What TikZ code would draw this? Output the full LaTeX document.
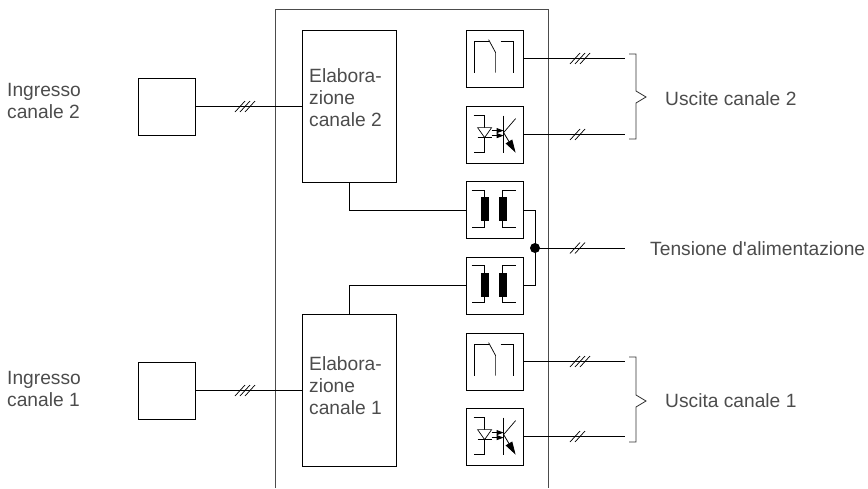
\documentclass[tikz,border=0pt]{standalone}
\usepackage{fontspec}
\setmainfont{Liberation Sans}
\usetikzlibrary{arrows.meta}
\begin{document}
\begin{tikzpicture}[
    x=1pt, y=-1pt,
    every node/.style={font=\fontsize{19.2}{22}\selectfont, text=black!70},
    wire/.style={line width=0.8pt},
    frameline/.style={line width=0.9pt, black!70},
    square/.style={rectangle, draw, line width=0.8pt, minimum size=57pt, inner sep=0pt},
    symbox/.style={rectangle, draw, line width=0.8pt, minimum size=57pt, inner sep=0pt},
    process/.style={rectangle, draw, line width=0.8pt, minimum width=94pt, minimum height=152pt, inner sep=0pt},
    label/.style={anchor=west, align=left, inner sep=0pt},
    symline/.style={line width=0.7pt},
    bracket/.style={line width=0.8pt, black!80},
    tiptri/.style={-{Triangle[length=7pt, width=5pt]}, line width=0.9pt},
    tipbig/.style={-{Triangle[length=13pt, width=7.5pt]}, line width=0.8pt},
    switchsym/.pic={
        \draw[symline] (9,43) -- (9,12) -- (23,12);
        \draw[symline] (23,10) -- (30,23) -- (30,43);
        \draw[symline] (35,12) -- (48,12) -- (48,43);
    },
    optosym/.pic={
        \draw[symline] (8,10) -- (19,10) -- (19,47) -- (8,47);
        \draw[symline, fill=white] (12,22) -- (26,22) -- (19,32) -- cycle;
        \draw[symline] (12,32) -- (26,32);
        \draw[tiptri] (26,25) -- (38,25);
        \draw[tiptri] (26,30) -- (38,30);
        \draw[line width=0.9pt] (38,10) -- (38,47);
        \draw[symline] (38,27) -- (50,13);
        \draw[tipbig] (38,27) -- (50,47);
    },
    coresym/.pic={
        \draw[symline] (6,9) -- (19,9) -- (19,46) -- (6,46);
        \draw[symline] (50,9) -- (37,9) -- (37,46) -- (50,46);
        \fill (15,16) rectangle (23,40);
        \fill (33,16) rectangle (41,40);
    },
    tickii/.pic={
        \foreach \tx in {-2.5,2.5} \draw[symline] (\tx-5,5.5) -- (\tx+5,-5.5);
    },
    tickiii/.pic={
        \foreach \tx in {-5,0,5} \draw[symline] (\tx-5,5.5) -- (\tx+5,-5.5);
    }
]
\useasboundingbox (0,0) rectangle (868,488);

% -------------------------
% Outer housing
% -------------------------
    \coordinate (fa) at (275,488);
    \coordinate (fb) at (275,9);
    \coordinate (fc) at (548,9);
    \coordinate (fd) at (548,488);
    \draw[frameline] (fa) -- (fb) -- (fc) -- (fd);

% -------------------------
% Left column
% -------------------------
    \node[label] (in2) at (7,101) {Ingresso\\canale 2};
    \node[label] (in1) at (7,389) {Ingresso\\canale 1};
    \node[square] (s2) at (166.5,106.5) {};
    \node[square] (s1) at (166.5,390.5) {};

% -------------------------
% Processing blocks
% -------------------------
    \node[process] (e2) at (349,106) {};
    \node[process] (e1) at (349,390) {};
    \node[label] (e2t) at (309,98) {Elabora-\\zione\\canale 2};
    \node[label] (e1t) at (309,386) {Elabora-\\zione\\canale 1};

% -------------------------
% Symbol boxes
% -------------------------
    \node[symbox] (rel2) at (494.5,58.5) {};
    \node[symbox] (opt2) at (494.5,134.5) {};
    \node[symbox] (tr2) at (494.5,210) {};
    \node[symbox] (tr1) at (494.5,285.5) {};
    \node[symbox] (rel1) at (494.5,361.5) {};
    \node[symbox] (opt1) at (494.5,436.5) {};
    \pic at (rel2.north west) {switchsym};
    \pic at (opt2.north west) {optosym};
    \pic at (tr2.north west) {coresym};
    \pic at (tr1.north west) {coresym};
    \pic at (rel1.north west) {switchsym};
    \pic at (opt1.north west) {optosym};

% -------------------------
% Right column
% -------------------------
    \node[label] (out2) at (665,98.5) {Uscite canale 2};
    \node[label] (pw) at (650,249) {Tensione d\textquotesingle alimentazione};
    \node[label] (out1) at (665,400.5) {Uscita canale 1};

    \coordinate (r2a) at (625,58.5);
    \coordinate (r2b) at (625,134.5);
    \coordinate (r1a) at (625,361.5);
    \coordinate (r1b) at (625,436.5);
    \coordinate (pwend) at (625,248);

% -------------------------
% Wires
% -------------------------
    \draw[wire] (s2.east) -- (s2.east -| e2.west);
    \draw[wire] (s1.east) -- (s1.east -| e1.west);
    \draw[wire] (rel2.east) -- (r2a);
    \draw[wire] (opt2.east) -- (r2b);
    \draw[wire] (rel1.east) -- (r1a);
    \draw[wire] (opt1.east) -- (r1b);

    \draw[wire] (e2.south) |- (tr2.west);
    \draw[wire] (e1.north) |- (tr1.west);

    \fill (535,248) coordinate (jn) circle (5);
    \draw[wire] (tr2.east) -| (jn);
    \draw[wire] (tr1.east) -| (jn);
    \draw[wire] (jn) -- (pwend);

% Ticks on the wires
    \pic at (245,106.5) {tickiii};
    \pic at (245,390.5) {tickiii};
    \pic at (580,58.5) {tickiii};
    \pic at (577.5,134.5) {tickii};
    \pic at (577.5,248) {tickii};
    \pic at (580,361.5) {tickiii};
    \pic at (577.5,436.5) {tickii};

% -------------------------
% Brackets
% -------------------------
    \draw[bracket] (629,54) -- (636,54) -- (636,91) -- (646,97) -- (636,103) -- (636,139) -- (629,139);
    \draw[bracket] (629,357) -- (636,357) -- (636,395) -- (646,401) -- (636,407) -- (636,442) -- (629,442);
\end{tikzpicture}
\end{document}
